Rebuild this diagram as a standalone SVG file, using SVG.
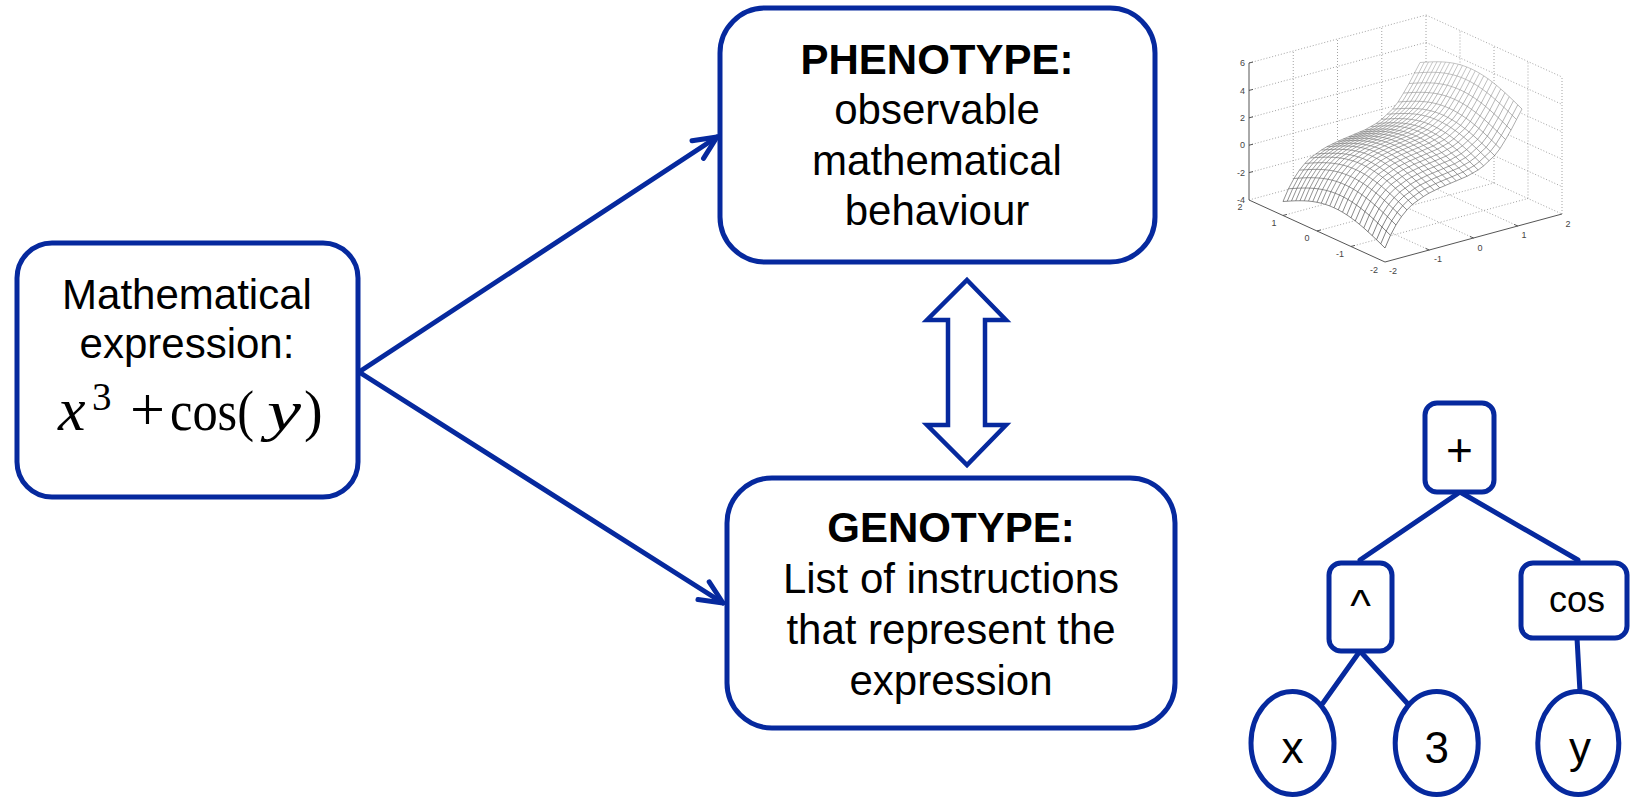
<svg xmlns="http://www.w3.org/2000/svg" width="1630" height="800" viewBox="0 0 1630 800">
<style>
.box{fill:#fff;stroke:#06299E;stroke-width:5}
.t{font-family:"Liberation Sans",Arial,sans-serif;font-size:42px;fill:#000;text-anchor:middle}
.b{font-weight:bold}
.conn{stroke:#06299E;stroke-width:5;fill:none;stroke-linecap:round}
.grid{stroke:#8c8c8c;stroke-width:0.8;stroke-dasharray:1 2;fill:none}
.ax{stroke:#555;stroke-width:1;fill:none}
.tl{font-family:"Liberation Sans",Arial,sans-serif;font-size:9px;fill:#444}
.mt{font-family:"Liberation Serif","Times New Roman",serif;fill:#000}
.it{font-style:italic}
</style>
<defs>
<marker id="chev" viewBox="-30 -15 34 30" refX="0" refY="0" markerWidth="34" markerHeight="30" markerUnits="userSpaceOnUse" orient="auto" overflow="visible">
<path d="M-23,-10.5 L0,0 L-23,10.5" fill="none" stroke="#06299E" stroke-width="5" stroke-linecap="round" stroke-linejoin="round"/>
</marker>
<path id="T" d="M0,0 L5.48,-12.72 L10.96,-23.04 L16.44,-31.36 L21.92,-38.08 L27.4,-43.6 L32.88,-47.52 L38.36,-51.44 L43.84,-54.76 L49.32,-57.48 L54.8,-60.2 L60.28,-62.52 L65.76,-64.84 L71.24,-67.16 L76.72,-69.48 L82.2,-71.8 L87.68,-74.92 L93.16,-78.04 L98.64,-82.16 L104.12,-87.28 L109.6,-92.4 L115.08,-99.52 L120.56,-108.44 L126.04,-117.96 L131.52,-128.48 L137,-139"/>
<path id="S" d="M0,0 L-4.25,-4.16 L-8.5,-8.28 L-12.75,-12.32 L-17,-16.25 L-21.25,-20.04 L-25.5,-23.65 L-29.75,-27.05 L-34,-30.22 L-38.25,-33.15 L-42.5,-35.8 L-46.75,-38.16 L-51,-40.25 L-55.25,-42.04 L-59.5,-43.55 L-63.75,-44.77 L-68,-45.72 L-72.25,-46.43 L-76.5,-46.9 L-80.75,-47.16 L-85,-47.25 L-89.25,-47.2 L-93.5,-47.03 L-97.75,-46.78 L-102,-46.5"/>
<linearGradient id="fadeGrad" x1="0" y1="0" x2="0" y2="1">
<stop offset="0.15" stop-color="#606060"/>
<stop offset="0.5" stop-color="#b0b0b0"/>
<stop offset="0.8" stop-color="#ffffff"/>
</linearGradient>
<mask id="fade" maskUnits="userSpaceOnUse" x="1200" y="0" width="430" height="300">
<rect x="1200" y="0" width="430" height="300" fill="url(#fadeGrad)"/>
</mask>
</defs>
<rect width="1630" height="800" fill="#fff"/>

<g id="plot">
<g class="grid">
<path d="M1249,200 L1426,152 M1249,172.6 L1426,124.6 M1249,145.2 L1426,97.2 M1249,117.8 L1426,69.8 M1249,90.4 L1426,42.4 M1249,63 L1426,15"/>
<path d="M1426,152 L1562,214 M1426,124.6 L1562,186.6 M1426,97.2 L1562,159.2 M1426,69.8 L1562,131.8 M1426,42.4 L1562,104.4 M1426,15 L1562,77"/>
<path d="M1293.25,188 L1293.25,51 M1337.5,176 L1337.5,39 M1381.75,164 L1381.75,27 M1426,152 L1426,15"/>
<path d="M1460,167.5 L1460,30.5 M1494,183 L1494,46 M1528,198.5 L1528,61.5 M1562,214 L1562,77"/>
<path d="M1283,215.5 L1460,167.5 M1317,231 L1494,183 M1351,246.5 L1528,198.5 M1429.25,250 L1293.25,188 M1473.5,238 L1337.5,176 M1517.75,226 L1381.75,164"/>
</g>
<g class="ax">
<path d="M1249,63 L1249,200 L1385,262 L1562,214"/>
<path d="M1249,63 l4,-1 M1249,90.4 l4,-1 M1249,117.8 l4,-1 M1249,145.2 l4,-1 M1249,172.6 l4,-1 M1283,215.5 l3.9,-1.1 M1317,231 l3.9,-1.1 M1351,246.5 l3.9,-1.1 M1429.25,250 l-3.6,-1.6 M1473.5,238 l-3.6,-1.6 M1517.75,226 l-3.6,-1.6"/>
</g>
<g class="tl" text-anchor="end">
<text x="1245" y="66">6</text>
<text x="1245" y="93.5">4</text>
<text x="1245" y="121">2</text>
<text x="1245" y="148">0</text>
<text x="1245" y="175.5">-2</text>
<text x="1245" y="203">-4</text>
</g>
<g class="tl" text-anchor="middle">
<text x="1240" y="210">2</text>
<text x="1274" y="226">1</text>
<text x="1307" y="241">0</text>
<text x="1340" y="257">-1</text>
<text x="1374" y="273">-2</text>
<text x="1393" y="274">-2</text>
<text x="1438" y="262">-1</text>
<text x="1480" y="251">0</text>
<text x="1524" y="238">1</text>
<text x="1568" y="227">2</text>
</g>
<path fill="#fff" d="M1385,248 L1376.5,239.72 L1368,231.75 L1359.5,224.35 L1351,217.78 L1342.5,212.2 L1334,207.75 L1325.5,204.45 L1317,202.28 L1308.5,201.1 L1300,200.75 L1291.5,200.97 L1283,201.5 L1288.48,188.78 L1293.96,178.46 L1299.44,170.14 L1304.92,163.42 L1310.4,157.9 L1315.88,153.98 L1326.84,146.74 L1337.8,141.3 L1348.76,136.66 L1359.72,132.02 L1370.68,126.58 L1381.64,119.34 L1392.6,109.1 L1398.08,101.98 L1403.56,93.06 L1409.04,83.54 L1414.52,73.02 L1420,62.5 L1428.5,61.97 L1437,61.75 L1445.5,62.1 L1454,63.28 L1462.5,65.45 L1471,68.75 L1479.5,73.2 L1488,78.78 L1496.5,85.35 L1505,92.75 L1513.5,100.72 L1522,109 L1516.52,119.52 L1511.04,130.04 L1505.56,139.56 L1500.08,148.48 L1494.6,155.6 L1483.64,165.84 L1472.68,173.08 L1461.72,178.52 L1450.76,183.16 L1439.8,187.8 L1428.84,193.24 L1417.88,200.48 L1412.4,204.4 L1406.92,209.92 L1401.44,216.64 L1395.96,224.96 L1390.48,235.28 Z"/>
<g mask="url(#fade)" fill="none" stroke="#252525" stroke-width="0.6">
<use href="#T" x="1385" y="248"/>
<use href="#T" x="1380.75" y="243.84"/>
<use href="#T" x="1376.5" y="239.72"/>
<use href="#T" x="1372.25" y="235.68"/>
<use href="#T" x="1368" y="231.75"/>
<use href="#T" x="1363.75" y="227.96"/>
<use href="#T" x="1359.5" y="224.35"/>
<use href="#T" x="1355.25" y="220.95"/>
<use href="#T" x="1351" y="217.78"/>
<use href="#T" x="1346.75" y="214.85"/>
<use href="#T" x="1342.5" y="212.2"/>
<use href="#T" x="1338.25" y="209.84"/>
<use href="#T" x="1334" y="207.75"/>
<use href="#T" x="1329.75" y="205.96"/>
<use href="#T" x="1325.5" y="204.45"/>
<use href="#T" x="1321.25" y="203.23"/>
<use href="#T" x="1317" y="202.28"/>
<use href="#T" x="1312.75" y="201.57"/>
<use href="#T" x="1308.5" y="201.1"/>
<use href="#T" x="1304.25" y="200.84"/>
<use href="#T" x="1300" y="200.75"/>
<use href="#T" x="1295.75" y="200.8"/>
<use href="#T" x="1291.5" y="200.97"/>
<use href="#T" x="1287.25" y="201.22"/>
<use href="#T" x="1283" y="201.5"/>
<use href="#S" x="1385" y="248"/>
<use href="#S" x="1390.48" y="235.28"/>
<use href="#S" x="1395.96" y="224.96"/>
<use href="#S" x="1401.44" y="216.64"/>
<use href="#S" x="1406.92" y="209.92"/>
<use href="#S" x="1412.4" y="204.4"/>
<use href="#S" x="1417.88" y="200.48"/>
<use href="#S" x="1423.36" y="196.56"/>
<use href="#S" x="1428.84" y="193.24"/>
<use href="#S" x="1434.32" y="190.52"/>
<use href="#S" x="1439.8" y="187.8"/>
<use href="#S" x="1445.28" y="185.48"/>
<use href="#S" x="1450.76" y="183.16"/>
<use href="#S" x="1456.24" y="180.84"/>
<use href="#S" x="1461.72" y="178.52"/>
<use href="#S" x="1467.2" y="176.2"/>
<use href="#S" x="1472.68" y="173.08"/>
<use href="#S" x="1478.16" y="169.96"/>
<use href="#S" x="1483.64" y="165.84"/>
<use href="#S" x="1489.12" y="160.72"/>
<use href="#S" x="1494.6" y="155.6"/>
<use href="#S" x="1500.08" y="148.48"/>
<use href="#S" x="1505.56" y="139.56"/>
<use href="#S" x="1511.04" y="130.04"/>
<use href="#S" x="1516.52" y="119.52"/>
<use href="#S" x="1522" y="109"/>
</g>
</g>

<g id="connectors">
<path class="conn" d="M359,372 L717,137" marker-end="url(#chev)"/>
<path class="conn" d="M359,372 L723,603" marker-end="url(#chev)"/>
<path d="M967,280 L1006,320 L985,320 L985,425 L1006,425 L967,465 L927,425 L948,425 L948,320 L927,320 Z" fill="#fff" stroke="#06299E" stroke-width="4.5"/>
<path class="conn" d="M1460,492 L1360,560 M1460,492 L1578,560 M1360,651 L1323,703 M1360,651 L1407,703 M1577,638 L1580,692"/>
</g>

<g id="expr">
<rect class="box" x="17" y="243" width="341" height="254" rx="35"/>
<text class="t" x="187" y="309">Mathematical</text>
<text class="t" x="187" y="358">expression:</text>
<text class="mt it" x="58" y="430" font-size="62">x</text>
<text class="mt" x="92" y="410" font-size="39">3</text>
<text class="mt" x="130" y="430" font-size="62">+</text>
<text class="mt" x="170" y="430" font-size="58" textLength="84" lengthAdjust="spacingAndGlyphs">cos(</text>
<text class="mt it" x="267" y="430" font-size="58" textLength="34" lengthAdjust="spacingAndGlyphs">y</text>
<text class="mt" x="304" y="430" font-size="56">)</text>
</g>

<g id="phenotype">
<rect class="box" x="720" y="8" width="435" height="254" rx="45"/>
<text class="t b" x="937" y="74">PHENOTYPE:</text>
<text class="t" x="937" y="124">observable</text>
<text class="t" x="937" y="175">mathematical</text>
<text class="t" x="937" y="225">behaviour</text>
</g>

<g id="genotype">
<rect class="box" x="727" y="478" width="448" height="250" rx="45"/>
<text class="t b" x="951" y="542">GENOTYPE:</text>
<text class="t" x="951" y="593">List of instructions</text>
<text class="t" x="951" y="644">that represent the</text>
<text class="t" x="951" y="695">expression</text>
</g>

<g id="tree-plus">
<rect class="box" x="1425" y="403" width="69" height="89" rx="12"/>
<text class="t" x="1459.5" y="466" style="font-size:46px">+</text>
</g>
<g id="tree-pow">
<rect class="box" x="1329" y="563" width="63" height="88" rx="12"/>
<text class="t" x="1360.5" y="621" style="font-size:44px">^</text>
</g>
<g id="tree-cos">
<rect class="box" x="1521" y="563" width="106" height="75" rx="12"/>
<text class="t" x="1577" y="612" style="font-size:36px">cos</text>
</g>
<g id="tree-x">
<ellipse class="box" cx="1292.5" cy="743" rx="41.5" ry="51.5"/>
<text class="t" x="1292.5" y="763" style="font-size:44px">x</text>
</g>
<g id="tree-3">
<ellipse class="box" cx="1436.7" cy="743" rx="41.5" ry="51.5"/>
<text class="t" x="1436.7" y="763" style="font-size:44px">3</text>
</g>
<g id="tree-y">
<ellipse class="box" cx="1578.3" cy="743" rx="40.5" ry="51.5"/>
<text class="t" x="1580" y="763" style="font-size:44px">y</text>
</g>
</svg>
